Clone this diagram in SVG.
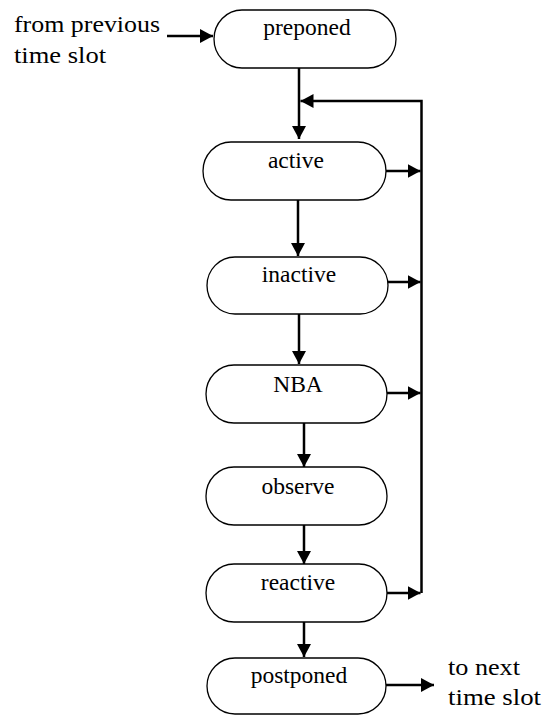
<svg xmlns="http://www.w3.org/2000/svg" width="545" height="715" viewBox="0 0 545 715">
  <style>
    .box { fill: #ffffff; stroke: #000000; stroke-width: 1.3; }
    .lbl { font-size: 23.5px; fill: #000000; text-anchor: middle; }
    .side { font-size: 24px; fill: #000000; }
    .wire { fill: none; stroke: #000000; stroke-width: 2.5; }
  </style>
  <defs>
    <marker id="arrow" markerUnits="userSpaceOnUse" markerWidth="14" markerHeight="15" refX="13" refY="7" orient="auto">
      <path d="M0,0 L13,7 L0,14 Z" fill="#000000"/>
    </marker>
  </defs>
  <rect width="545" height="715" fill="#ffffff"/>

  <g font-family="Liberation Serif, Times New Roman, serif">
  <!-- side labels -->
  <text class="side" x="14" y="32" textLength="146" lengthAdjust="spacingAndGlyphs">from previous</text>
  <text class="side" x="14" y="63" textLength="92" lengthAdjust="spacingAndGlyphs">time slot</text>
  <text class="side" x="448" y="675" textLength="72" lengthAdjust="spacingAndGlyphs">to next</text>
  <text class="side" x="448" y="705" textLength="93" lengthAdjust="spacingAndGlyphs">time slot</text>

  <!-- connectors -->
  <g id="connectors">
    <line class="wire" x1="167" y1="36" x2="213" y2="36" marker-end="url(#arrow)"/>
    <line class="wire" x1="299" y1="68" x2="299" y2="139" marker-end="url(#arrow)"/>
    <polyline class="wire" points="421.5,593 421.5,101 300.5,101" marker-end="url(#arrow)"/>
    <line class="wire" x1="298" y1="200" x2="298" y2="256" marker-end="url(#arrow)"/>
    <line class="wire" x1="299" y1="314" x2="299" y2="364" marker-end="url(#arrow)"/>
    <line class="wire" x1="304" y1="423" x2="304" y2="467" marker-end="url(#arrow)"/>
    <line class="wire" x1="304" y1="525" x2="304" y2="564" marker-end="url(#arrow)"/>
    <line class="wire" x1="304" y1="622" x2="304" y2="657" marker-end="url(#arrow)"/>
    <line class="wire" x1="386" y1="171" x2="420.5" y2="171" marker-end="url(#arrow)"/>
    <line class="wire" x1="388" y1="282" x2="420.5" y2="282" marker-end="url(#arrow)"/>
    <line class="wire" x1="387" y1="393" x2="420.5" y2="393" marker-end="url(#arrow)"/>
    <line class="wire" x1="387" y1="593" x2="420.5" y2="593" marker-end="url(#arrow)"/>
    <line class="wire" x1="386" y1="685" x2="434" y2="685" marker-end="url(#arrow)"/>
  </g>

  <!-- nodes -->
  <g id="preponed">
    <rect class="box" x="214" y="10" width="182" height="58" rx="28" ry="29"/>
    <text class="lbl" x="307" y="35">preponed</text>
  </g>
  <g id="active">
    <rect class="box" x="203" y="142" width="183" height="58" rx="28" ry="29"/>
    <text class="lbl" x="296" y="168">active</text>
  </g>
  <g id="inactive">
    <rect class="box" x="207" y="257" width="181" height="57" rx="28" ry="28.5"/>
    <text class="lbl" x="299" y="282">inactive</text>
  </g>
  <g id="nba">
    <rect class="box" x="206" y="365" width="181" height="58" rx="28" ry="29"/>
    <text class="lbl" x="298" y="392">NBA</text>
  </g>
  <g id="observe">
    <rect class="box" x="206" y="467" width="181" height="58" rx="28" ry="29"/>
    <text class="lbl" x="298" y="494">observe</text>
  </g>
  <g id="reactive">
    <rect class="box" x="206" y="564" width="181" height="58" rx="28" ry="29"/>
    <text class="lbl" x="298" y="590">reactive</text>
  </g>
  <g id="postponed">
    <rect class="box" x="207" y="658" width="179" height="56" rx="28" ry="28"/>
    <text class="lbl" x="299" y="683">postponed</text>
  </g>
  </g>
</svg>
